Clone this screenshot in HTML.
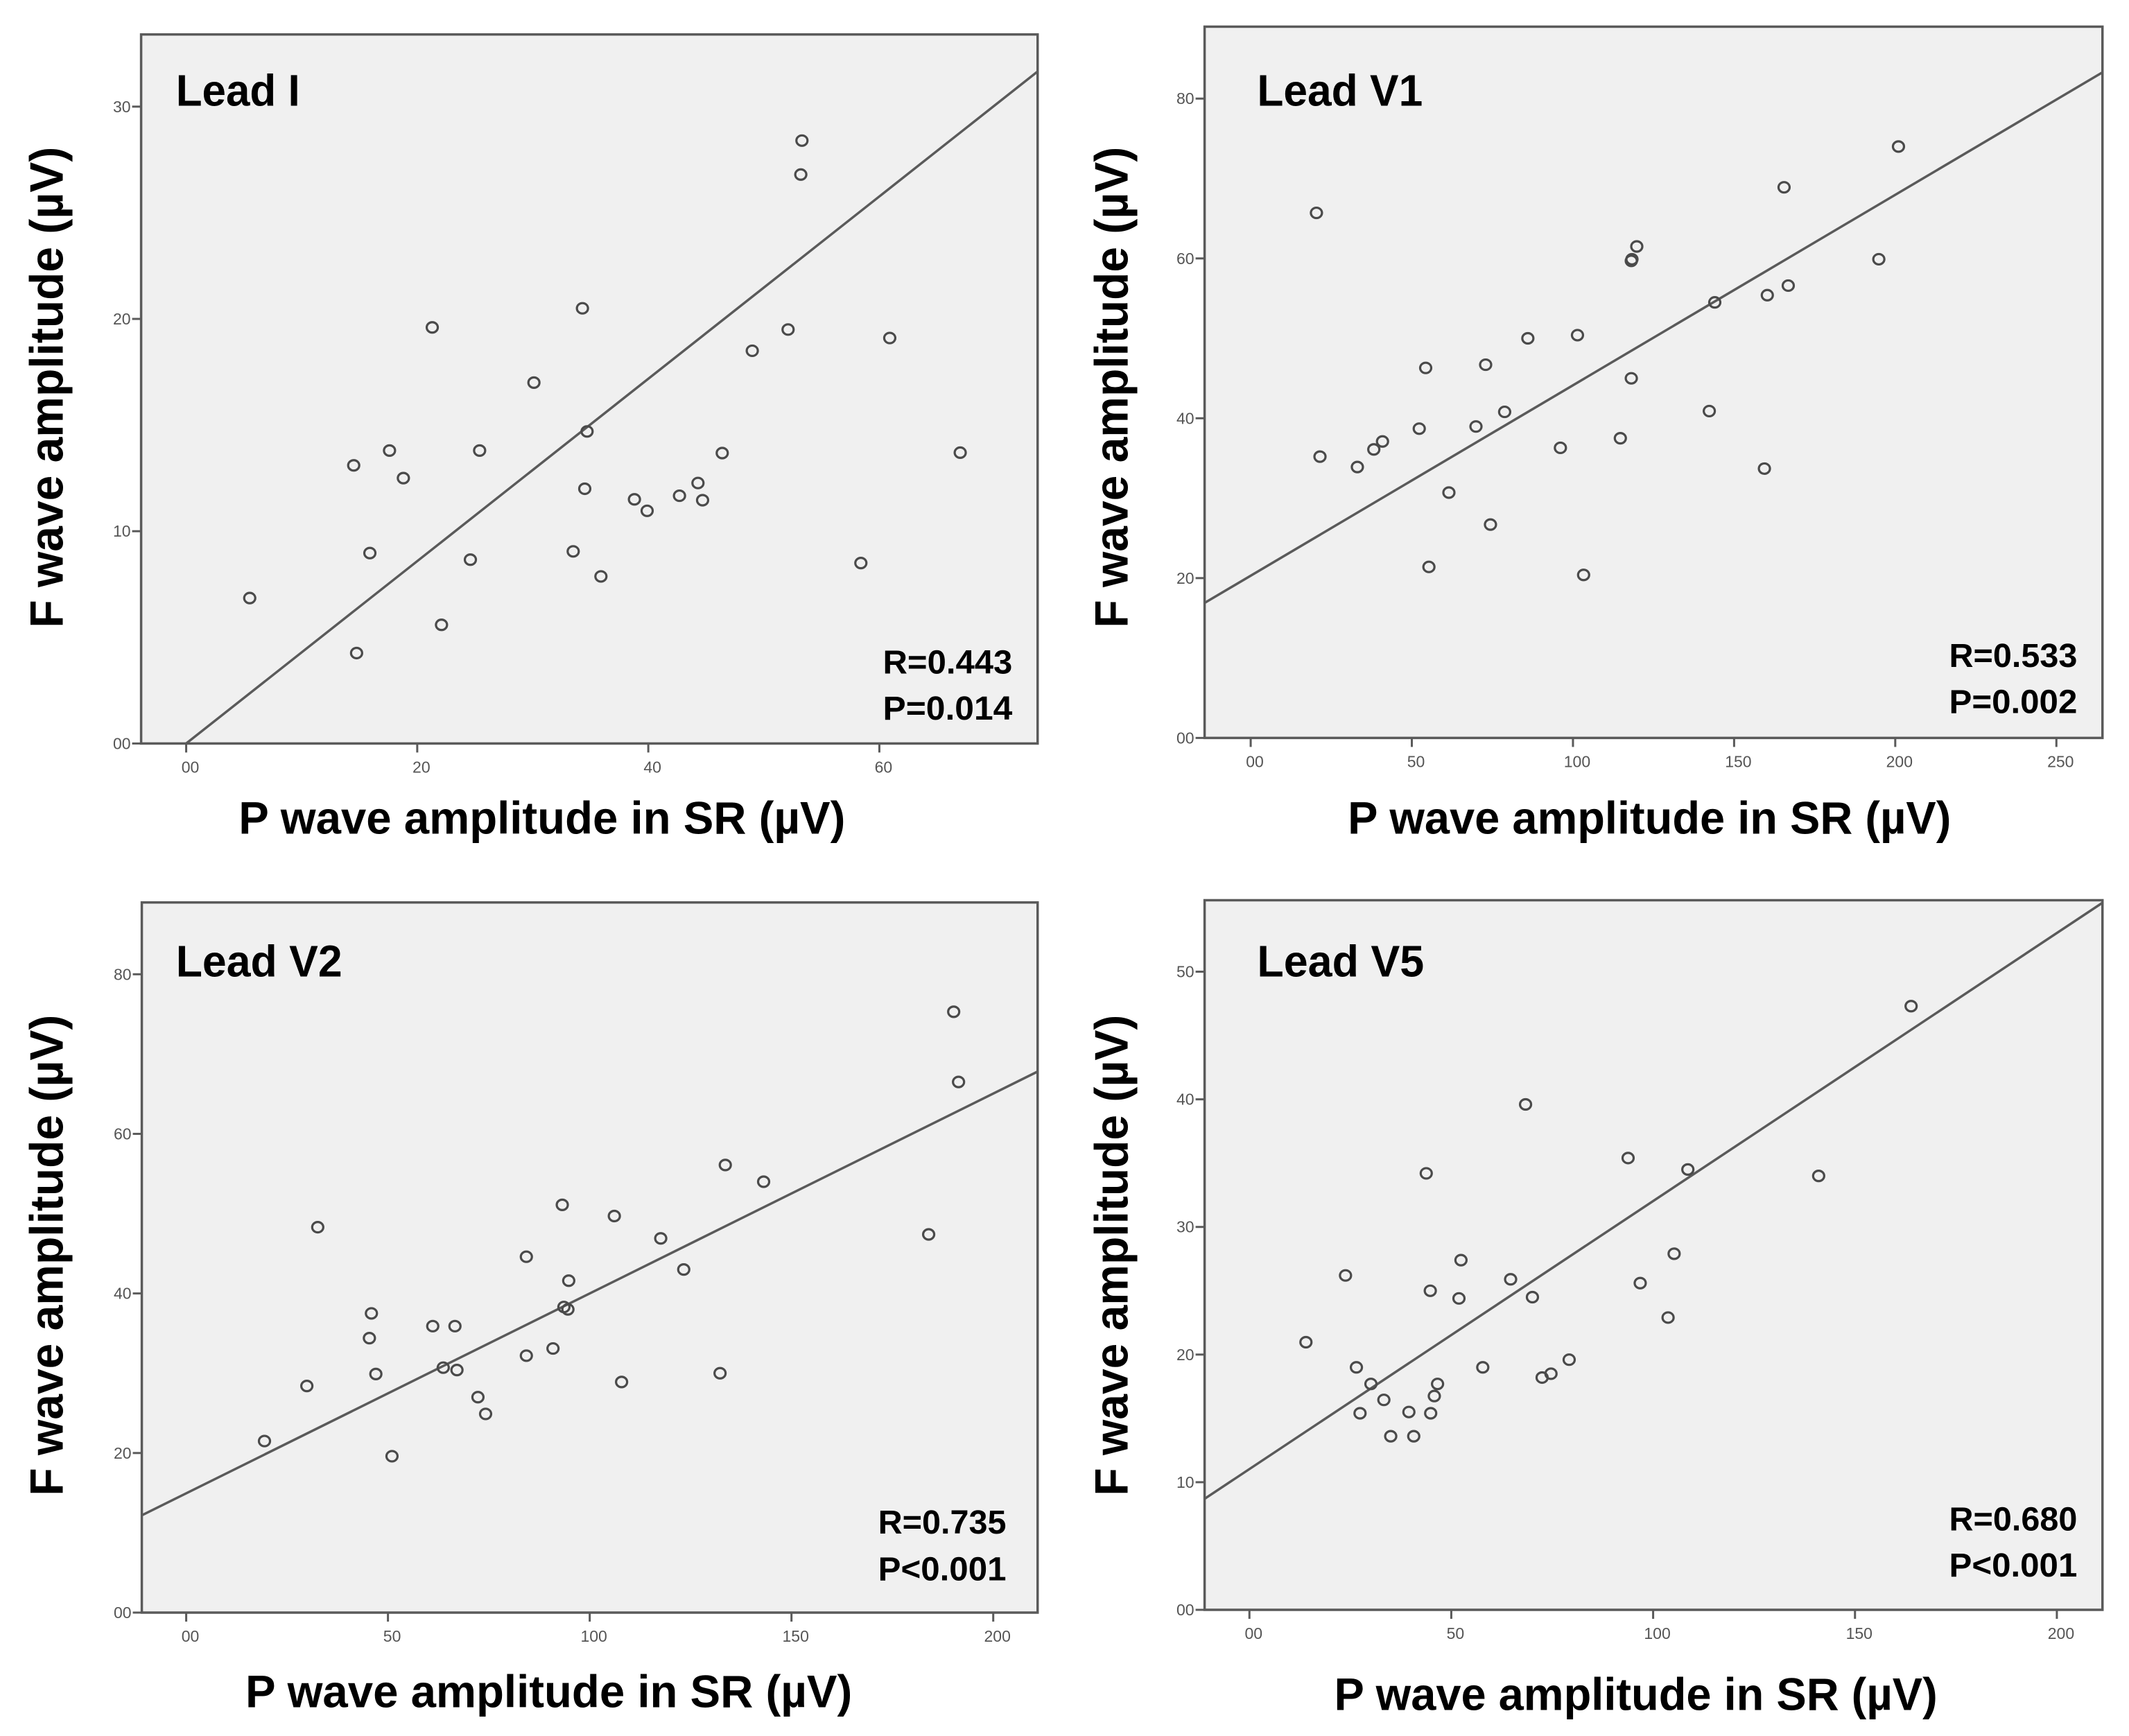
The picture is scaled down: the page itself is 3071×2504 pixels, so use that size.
<!DOCTYPE html>
<html><head><meta charset="utf-8">
<style>html,body{margin:0;padding:0;background:#fff;}svg{display:block;}</style>
</head><body>
<svg id="chart" xmlns="http://www.w3.org/2000/svg" width="3071" height="2504" viewBox="0 0 3071 2504"></svg>
<script>
// ---- data ----
const leadIX = [5.5,14.5,14.75,15.9,17.6,18.8,21.3,22.1,24.6,25.4,30.1,33.5,34.3,34.5,34.7,35.9,38.8,39.9,42.7,44.3,44.7,46.4,49.0,52.1,53.2,53.3,58.4,60.9,67.0];
const leadIY = [6.85,13.1,4.26,8.97,13.8,12.5,19.6,5.59,8.66,13.8,17.0,9.05,20.5,12.0,14.7,7.87,11.5,10.96,11.67,12.27,11.46,13.68,18.5,19.5,26.8,28.4,8.5,19.1,13.7];
const leadIFit = [0.0, 0.4295];
const leadIXTicks = ["00","20","40","60"];
const leadIYTicks = ["00","10","20","30"];

const leadV1X = [20.4,21.5,33.1,38.2,40.9,52.3,54.3,55.3,61.5,69.9,72.9,74.4,78.8,86.0,96.1,101.4,103.3,114.7,118.1,118.1,118.3,119.8,142.3,144.0,159.4,160.3,165.5,166.8,194.9,201.0];
const leadV1Y = [65.7,35.2,33.9,36.1,37.1,38.7,46.3,21.4,30.7,38.97,46.7,26.7,40.8,50.0,36.3,50.4,20.4,37.5,45.0,59.7,59.9,61.5,40.9,54.5,33.7,55.4,68.9,56.6,59.9,74.0];
const leadV1Fit = [20.3, 0.2383];
const leadV1XTicks = ["00","50","100","150","200","250"];
const leadV1YTicks = ["00","20","40","60","80"];

const leadV2X = [19.4,29.9,32.6,45.4,45.9,47.0,51.0,61.1,63.7,66.6,67.1,72.3,74.2,84.3,84.3,90.9,93.2,93.6,94.6,94.8,106.1,107.9,117.6,123.3,132.3,133.6,143.1,184.0,190.2,191.4];
const leadV2Y = [21.5,28.4,48.3,34.4,37.5,29.9,19.6,35.9,30.7,35.9,30.4,27.0,24.9,44.6,32.2,33.1,51.1,38.3,38.0,41.6,49.7,28.9,46.9,43.0,30.0,56.1,54.0,47.4,75.3,66.5];
const leadV2Fit = [14.95, 0.2505];
const leadV2XTicks = ["00","50","100","150","200"];
const leadV2YTicks = ["00","20","40","60","80"];

const leadV5X = [14.0,23.8,26.5,27.4,30.1,33.3,35.0,39.5,40.7,43.8,44.8,44.9,45.8,46.6,51.9,52.4,57.8,64.7,68.4,70.1,72.5,74.7,79.2,93.8,96.8,103.7,105.2,108.6,141.0,163.9];
const leadV5Y = [20.97,26.2,19.0,15.4,17.7,16.45,13.6,15.5,13.6,34.2,25.0,15.4,16.75,17.7,24.4,27.4,19.0,25.9,39.6,24.5,18.2,18.5,19.6,35.4,25.6,22.9,27.9,34.5,34.0,47.3];
const leadV5Fit = [11.03, 0.21];
const leadV5XTicks = ["00","50","100","150","200"];
const leadV5YTicks = ["00","10","20","30","40","50"];

const NS = "http://www.w3.org/2000/svg";
const svg = document.getElementById('chart');
const KX = 0.9834, KY = 0.8015;
function mk(tag, attrs, parent) {
  const e = document.createElementNS(NS, tag);
  for (const k in attrs) e.setAttribute(k, attrs[k]);
  (parent || svg).appendChild(e);
  return e;
}

const panels = [
  {id:'lead-i', name:'Lead I', ox:0, oy:0, xs:leadIX, ys:leadIY, fit:leadIFit, xt:leadIXTicks, yt:leadIYTicks, xstep:20, ystep:10,
   box:[207,62,1522,1338], xd:[-3.9,73.7], yd:[0,33.4], lead:[258,190,182], stats:['R=0.443','P=0.014'], st:[1295,1212,1295,190], xtitle:[350,1500,890]},
  {id:'lead-v1', name:'Lead V1', ox:1536, oy:0, xs:leadV1X, ys:leadV1Y, fit:leadV1Fit, xt:leadV1XTicks, yt:leadV1YTicks, xstep:50, ystep:20,
   box:[205,48,1522,1328], xd:[-14.3,264.3], yd:[0,89.0], lead:[282,190,243], stats:['R=0.533','P=0.002'], st:[1297,1200,1283,188], xtitle:[415,1500,885]},
  {id:'lead-v2', name:'Lead V2', ox:0, oy:1252, xs:leadV2X, ys:leadV2Y, fit:leadV2Fit, xt:leadV2XTicks, yt:leadV2YTicks, xstep:50, ystep:20,
   box:[208,62,1522,1340], xd:[-11.0,211.0], yd:[0,89.0], lead:[258,195,244], stats:['R=0.735','P<0.001'], st:[1288,1198,1282,188], xtitle:[360,1510,890]},
  {id:'lead-v5', name:'Lead V5', ox:1536, oy:1252, xs:leadV5X, ys:leadV5Y, fit:leadV5Fit, xt:leadV5XTicks, yt:leadV5YTicks, xstep:50, ystep:10,
   box:[205,58,1522,1335], xd:[-11.1,211.3], yd:[0,55.6], lead:[282,195,245], stats:['R=0.680','P<0.001'], st:[1297,1192,1275,188], xtitle:[395,1515,885]}
];

panels.forEach(p => {
  const L = p.ox + p.box[0]*KX, R = p.ox + p.box[2]*KX;
  const T = p.oy + p.box[1]*KY, B = p.oy + p.box[3]*KY;
  const sx = v => L + (v - p.xd[0]) / (p.xd[1] - p.xd[0]) * (R - L);
  const sy = v => B - (v - p.yd[0]) / (p.yd[1] - p.yd[0]) * (B - T);
  const g = mk('g', {});
  
  

  const bg = mk('rect', {x:L, y:T, width:R-L, height:B-T, fill:'#f0f0f0', stroke:'#5a5a5a', 'stroke-width':3.5}, g);
  
  

  p.yt.forEach((lab, i) => {
    const v = i * p.ystep; const y = sy(v);
    const t = mk('line', {x1:L-13, x2:L, y1:y, y2:y, stroke:'#5a5a5a', 'stroke-width':3}, g);
    
    
    const tx = mk('text', {x:L-15, y:y+8, 'text-anchor':'end', 'font-family':'Liberation Sans, sans-serif', 'font-size':23, fill:'#555'}, g);
    tx.textContent = lab;
    
    
  });
  p.xt.forEach((lab, i) => {
    const v = i * p.xstep; const x = sx(v);
    const t = mk('line', {x1:x, x2:x, y1:B, y2:B+13, stroke:'#5a5a5a', 'stroke-width':3}, g);
    
    
    const tx = mk('text', {x:x+6, y:B+42, 'text-anchor':'middle', 'font-family':'Liberation Sans, sans-serif', 'font-size':23, fill:'#555'}, g);
    tx.textContent = lab;
    
    
  });

  let x1 = p.xd[0], y1 = p.fit[0] + p.fit[1]*x1;
  if (y1 < p.yd[0]) { x1 = (p.yd[0]-p.fit[0])/p.fit[1]; y1 = p.yd[0]; }
  let x2 = p.xd[1], y2 = p.fit[0] + p.fit[1]*x2;
  if (y2 > p.yd[1]) { x2 = (p.yd[1]-p.fit[0])/p.fit[1]; y2 = p.yd[1]; }
  const fl = mk('line', {x1:sx(x1), y1:sy(y1), x2:sx(x2), y2:sy(y2), stroke:'#5a5a5a', 'stroke-width':3.5}, g);
  
  

  p.xs.forEach((xv, i) => {
    const c = mk('ellipse', {cx:sx(xv), cy:sy(p.ys[i]), rx:8, ry:7.5, fill:'none', stroke:'#4a4a4a', 'stroke-width':3.2}, g);
    
    
  });

  const ld = mk('text', {x:p.ox+p.lead[0]*KX, y:p.oy+p.lead[1]*KY, 'font-family':'Liberation Sans Narrow, Liberation Sans, sans-serif', 'font-weight':'bold', 'font-size':64, fill:'#000', textLength:p.lead[2]*KX, lengthAdjust:'spacingAndGlyphs'}, g);
  ld.textContent = p.name;
  
  

  p.stats.forEach((s, i) => {
    const st = mk('text', {x:p.ox+p.st[0]*KX, y:p.oy+(i===0?p.st[1]:p.st[2])*KY, 'font-family':'Liberation Sans Narrow, Liberation Sans, sans-serif', 'font-weight':'bold', 'font-size':48, fill:'#000', textLength:p.st[3]*KX, lengthAdjust:'spacingAndGlyphs'}, g);
    st.textContent = s;
    
    
  });

  const xt = mk('text', {x:p.ox+p.xtitle[0]*KX, y:p.oy+p.xtitle[1]*KY, 'font-family':'Liberation Sans Narrow, Liberation Sans, sans-serif', 'font-weight':'bold', 'font-size':66, fill:'#000', textLength:p.xtitle[2]*KX, lengthAdjust:'spacingAndGlyphs'}, g);
  xt.textContent = 'P wave amplitude in SR (\u00b5V)';
  
  

  const cx = p.ox + 92*KX, cy = p.oy + 697*KY;
  const yt = mk('text', {x:0, y:0, transform:`translate(${cx},${cy}) rotate(-90)`, 'text-anchor':'middle', 'font-family':'Liberation Sans, sans-serif', 'font-weight':'bold', 'font-size':68, fill:'#000', textLength:694, lengthAdjust:'spacingAndGlyphs'}, g);
  yt.textContent = 'F wave amplitude (\u00b5V)';
  
  
});
</script>
</body></html>
